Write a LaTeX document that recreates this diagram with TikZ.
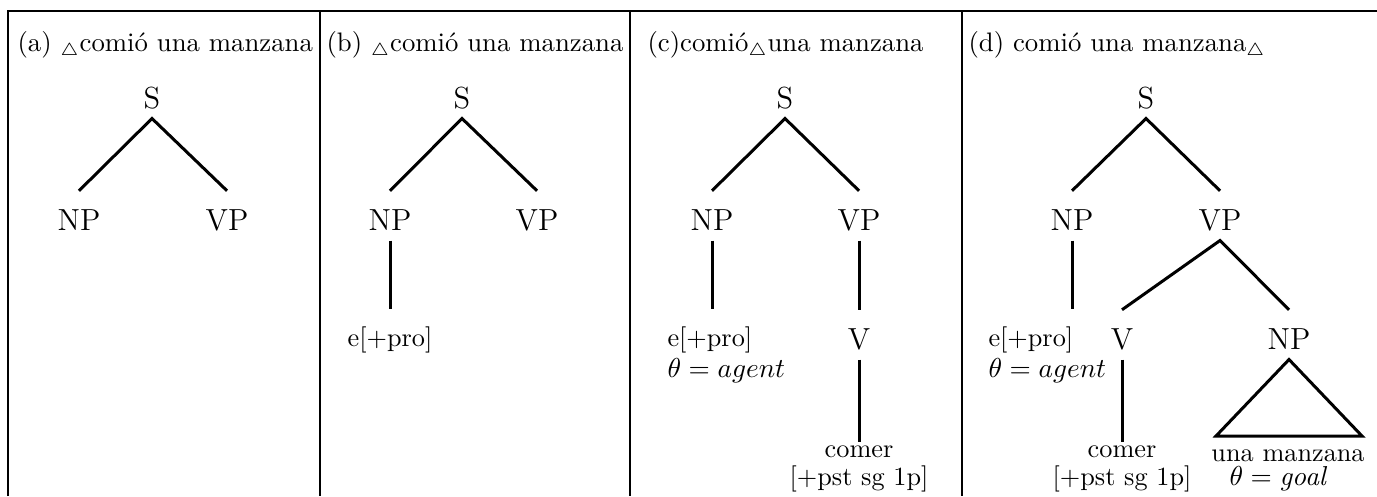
\documentclass[tikz,border=0pt]{standalone}
\usepackage{tikz}
\usetikzlibrary{positioning}

\begin{document}
\begin{tikzpicture}[x=0.4pt,y=-0.4pt,
	cat/.style={font=\fontsize{12.2}{14}\selectfont,inner sep=0pt,text height=15.5pt,text depth=4pt,anchor=base},
	lex/.style={font=\fontsize{10.5}{12.6}\selectfont,inner sep=0pt,outer ysep=7pt,anchor=north},
	leaf/.style={font=\fontsize{10.5}{11}\selectfont,inner sep=0pt,outer ysep=1.5pt,anchor=north,align=center},
	head/.style={font=\fontsize{10.7}{13}\selectfont,inner sep=0pt,anchor=base west},
	branch/.style={line width=1.2pt}]
		\useasboundingbox (0,0) rectangle (1377,496);
		% frame
		\draw[line width=0.8pt] (8,496) -- (8,11) -- (1377,11);
		\draw[line width=0.8pt] (320,11) -- (320,496);
		\draw[line width=0.8pt] (630,11) -- (630,496);
		\draw[line width=0.8pt] (962,11) -- (962,496);
		% headers
		\node[head] (ha) at (17,51) {(a) $_\triangle$comió una manzana};
		\node[head] (hb) at (326,51) {(b) $_\triangle$comió una manzana};
		\node[head] (hc) at (647,51) {(c)comió$_\triangle$una manzana};
		\node[head] (hd) at (968,51) {(d) comió una manzana$_\triangle$};
		% (a)
		\node[cat] (sa) at (152,108) {S};
		\node[cat] (npa) at (79,230) {NP};
		\node[cat] (vpa) at (227,230) {VP};
		\draw[branch] (npa.north) -- (sa.south) -- (vpa.north);
		% (b)
		\node[cat] (sb) at (462,108) {S};
		\node[cat] (npb) at (390,230) {NP};
		\node[cat] (vpb) at (537,230) {VP};
		\node[lex] (eb) at (390,309) {e[+pro]};
		\draw[branch] (npb.north) -- (sb.south) -- (vpb.north);
		\draw[branch] (npb.south) -- (eb.north);
		% (c)
		\node[cat] (sc) at (785,108) {S};
		\node[cat] (npc) at (712,230) {NP};
		\node[cat] (vpc) at (859,230) {VP};
		\node[lex,anchor=north west,align=left] (ec) at (667,309) {e[+pro]\\$\theta = agent$};
		\node[cat] (vc) at (859,349) {V};
		\node[leaf] (wc) at (859,442) {comer\\{}[+pst sg 1p]};
		\draw[branch] (npc.north) -- (sc.south) -- (vpc.north);
		\draw[branch] (npc.south) -- (npc.south |- ec.north);
		\draw[branch] (vpc.south) -- (vc.north);
		\draw[branch] (vc.south) -- (wc.north);
		% (d)
		\node[cat] (sd) at (1146,108) {S};
		\node[cat] (npd) at (1072,230) {NP};
		\node[cat] (vpd) at (1220,230) {VP};
		\node[lex,anchor=north west,align=left] (ed) at (988,309) {e[+pro]\\$\theta = agent$};
		\node[cat] (vd) at (1122,349) {V};
		\node[cat] (npe) at (1289,349) {NP};
		\node[leaf] (wd) at (1122,442) {comer\\{}[+pst sg 1p]};
		\node[leaf] (ud) at (1288,446) {una manzana};
		\node[lex,anchor=base west] (gd) at (1229,485) {$\theta = \mathit{goal}$};
		\coordinate (tl) at (1216,436);
		\coordinate (tr) at (1362,436);
		\draw[branch] (npd.north) -- (sd.south) -- (vpd.north);
		\draw[branch] (npd.south) -- (npd.south |- ed.north);
		\draw[branch] (vd.north) -- (vpd.south) -- (npe.north);
		\draw[branch] (vd.south) -- (wd.north);
		\draw[branch] (npe.south) -- (tr) -- (tl) -- cycle;
	\end{tikzpicture}
\end{document}
